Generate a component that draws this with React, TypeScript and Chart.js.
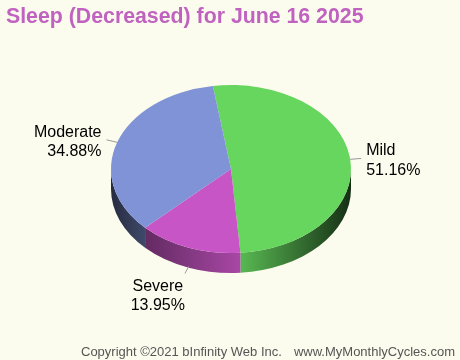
import React, { useEffect, useRef } from 'react';
import { Chart, registerables } from 'chart.js';

Chart.register(...registerables);

const TITLE = 'Sleep (Decreased) for June 16 2025';
const CATEGORIES = ['Mild', 'Severe', 'Moderate'];
const COUNTS = [22, 6, 15];
const COLORS = ['#66d65f', '#c855c5', '#7f93d6'];
const FOOTER_LEFT = 'Copyright ©2021 bInfinity Web Inc.';
const FOOTER_RIGHT = 'www.MyMonthlyCycles.com';

const BG = '#fcfcee';
const K = 0.7; // vertical squash of the pie
const DEPTH = 20; // 3D thickness

function hexToRgb(h: string) {
  const n = parseInt(h.slice(1), 16);
  return [(n >> 16) & 255, (n >> 8) & 255, n & 255];
}
function shade(h: string, f: number) {
  const [r, g, b] = hexToRgb(h);
  return `rgb(${Math.round(r * f)},${Math.round(g * f)},${Math.round(b * f)})`;
}

const pie3d = {
  id: 'pie3d',
  beforeDraw(chart: any) {
    const ctx = chart.ctx;
    ctx.save();
    ctx.fillStyle = BG;
    ctx.fillRect(0, 0, chart.width, chart.height);
    ctx.restore();
  },
  beforeDatasetsDraw(chart: any) {
    const ctx = chart.ctx;
    const arcs = chart.getDatasetMeta(0).data;
    ctx.save();
    if (!arcs.length) return;
    const { x: cx, y: cy, outerRadius: r } = arcs[0].getProps(['x', 'y', 'outerRadius'], true);
    const ry = r * K;
    arcs.forEach((arc: any, i: number) => {
      const { startAngle, endAngle } = arc.getProps(['startAngle', 'endAngle'], true);
      for (const off of [-2 * Math.PI, 0, 2 * Math.PI]) {
        const s = Math.max(startAngle, off);
        const e = Math.min(endAngle, off + Math.PI);
        if (e <= s) continue;
        const grad = ctx.createLinearGradient(cx - r, 0, cx + r, 0);
        const col = COLORS[i];
        grad.addColorStop(0, shade(col, 0.3));
        grad.addColorStop(0.15, shade(col, 0.5));
        grad.addColorStop(0.55, shade(col, 0.85));
        grad.addColorStop(1, shade(col, 0.22));
        ctx.fillStyle = grad;
        ctx.beginPath();
        ctx.ellipse(cx, cy, r, ry, 0, s, e);
        ctx.ellipse(cx, cy + DEPTH, r, ry, 0, e, s, true);
        ctx.closePath();
        ctx.fill();
      }
    });
    ctx.translate(0, cy);
    ctx.scale(1, K);
    ctx.translate(0, -cy);
  },
  afterDatasetsDraw(chart: any) {
    const ctx = chart.ctx;
    ctx.restore();
    const arcs = chart.getDatasetMeta(0).data;
    if (!arcs.length) return;
    const { x: cx, y: cy, outerRadius: r } = arcs[0].getProps(['x', 'y', 'outerRadius'], true);
    const ry = r * K;
    const data = chart.data.datasets[0].data as number[];
    const total = data.reduce((a, b) => a + b, 0);
    ctx.save();
    ctx.font = '16px "Liberation Sans", Arial, sans-serif';
    ctx.fillStyle = '#000';
    ctx.textBaseline = 'middle';
    arcs.forEach((arc: any, i: number) => {
      const { startAngle, endAngle } = arc.getProps(['startAngle', 'endAngle'], true);
      const mid = (startAngle + endAngle) / 2;
      const c = Math.cos(mid);
      const s = Math.sin(mid);
      const ax = cx + r * c;
      const ay = cy + ry * s + DEPTH * Math.max(0, s);
      const dx = c, dy = s * K;
      const n = Math.hypot(dx, dy);
      const len = Math.abs(c) > 0.5 ? 11 : 8;
      const ex = ax + (dx / n) * len;
      const ey = ay + (dy / n) * len;
      ctx.strokeStyle = '#999';
      ctx.lineWidth = 1;
      ctx.beginPath();
      ctx.moveTo(ax, ay);
      ctx.lineTo(ex, ey);
      ctx.stroke();
      const l1 = CATEGORIES[i];
      const l2 = ((data[i] / total) * 100).toFixed(2) + '%';
      if (c > 0.5) {
        ctx.textAlign = 'left';
        ctx.fillText(l1, ex + 5, ey - 8);
        ctx.fillText(l2, ex + 5, ey + 12);
      } else if (c < -0.5) {
        ctx.textAlign = 'right';
        ctx.fillText(l1, ex - 5, ey - 7);
        ctx.fillText(l2, ex - 5, ey + 12);
      } else {
        const w = Math.max(ctx.measureText(l1).width, ctx.measureText(l2).width);
        ctx.textAlign = 'center';
        const tx = s > 0 ? ex - w / 2 : ex;
        const base = s > 0 ? ey + 13 : ey - 32;
        ctx.fillText(l1, tx, base);
        ctx.fillText(l2, tx, base + 19);
      }
    });
    ctx.restore();
  },
  afterDraw(chart: any) {
    const ctx = chart.ctx;
    ctx.save();
    ctx.textBaseline = 'alphabetic';
    ctx.font = 'bold 21.3px "Liberation Sans", Arial, sans-serif';
    ctx.fillStyle = '#c062c0';
    ctx.textAlign = 'left';
    ctx.fillText(TITLE, 6, 23);
    ctx.font = '13px "Liberation Sans", Arial, sans-serif';
    ctx.fillStyle = '#555';
    ctx.fillText(FOOTER_LEFT, 81, 356);
    ctx.textAlign = 'right';
    ctx.fillText(FOOTER_RIGHT, 455, 356);
    ctx.restore();
  },
};

export default function App() {
  const ref = useRef<HTMLCanvasElement | null>(null);
  useEffect(() => {
    document.body.style.margin = '0';
    document.body.style.background = BG;
    if (!ref.current) return;
    const chart = new Chart(ref.current, {
      type: 'pie',
      data: {
        labels: CATEGORIES,
        datasets: [
          {
            data: COUNTS,
            backgroundColor: COLORS,
            borderWidth: 0,
            clip: false as any,
          },
        ],
      },
      options: {
        responsive: false,
        animation: false,
        events: [],
        rotation: -8.7,
        layout: { padding: { left: 111, right: 109, top: 49, bottom: 71 } },
        plugins: {
          legend: { display: false },
          title: { display: false },
          tooltip: { enabled: false },
        },
      },
      plugins: [pie3d],
    });
    return () => chart.destroy();
  }, []);
  return (
    <div style={{ width: 460, height: 360 }}>
      <canvas ref={ref} width={460} height={360} style={{ display: 'block' }} />
    </div>
  );
}
